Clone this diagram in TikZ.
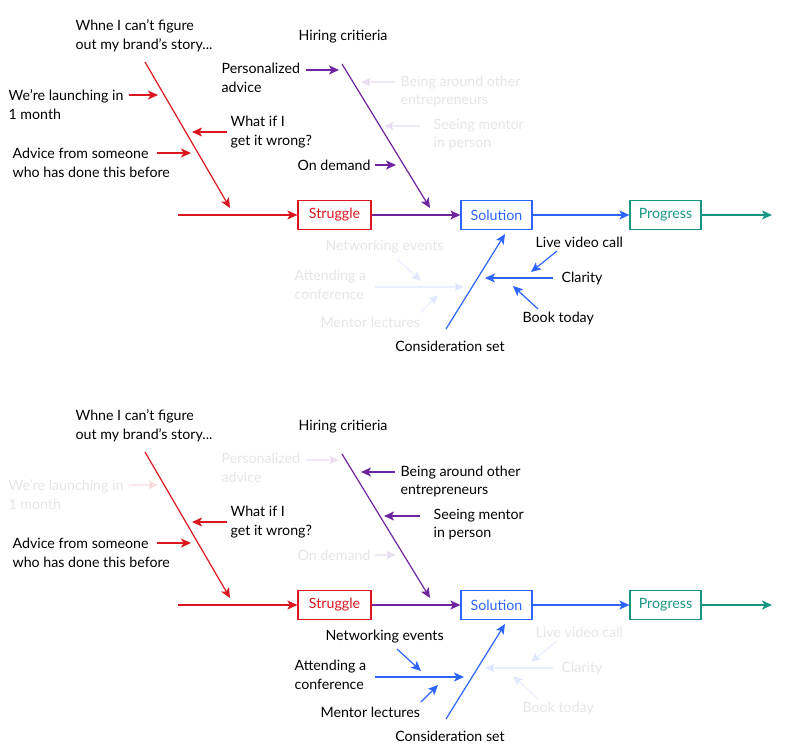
\documentclass[tikz,border=0pt]{standalone}
\usepackage{fontspec}
\setmainfont{Lato}
\usetikzlibrary{arrows.meta}
\definecolor{fbred}{RGB}{218,22,32}
\definecolor{fbpurple}{RGB}{110,36,158}
\definecolor{fbblue}{RGB}{44,100,255}
\definecolor{fbteal}{RGB}{22,150,130}

\begin{document}
\begin{tikzpicture}[x=1pt,y=-1pt,line width=1.2pt,
  >={Stealth[length=10pt,width=9pt,inset=2.5pt]},
  lbl/.style={align=left,inner sep=0pt,font=\fontsize{14.2}{18.7}\selectfont},
  stage/.style={draw,line width=1.2pt,minimum height=29pt,inner sep=0pt,font=\fontsize{14.2}{18.7}\selectfont}]
\useasboundingbox (0,0) rectangle (800,751);
\foreach \p/\dy/\oa/\ob in {a/0/1/.1, b/390/.1/1} {
\begin{scope}[shift={(0,\dy)}]
% stages
\node[stage,fbred,minimum width=73pt] (struggle\p) at (334.5,215) {Struggle};
\node[stage,fbblue,minimum width=71pt] (solution\p) at (496.5,215) {Solution};
\node[stage,fbteal,minimum width=71pt] (progress\p) at (665.5,215) {Progress};
\coordinate (start\p) at (178,215);
\coordinate (end\p) at (772,215);
\draw[->,fbred] (start\p) -- (struggle\p);
\draw[->,fbpurple] (struggle\p) -- (solution\p);
\draw[->,fbblue] (solution\p) -- (progress\p);
\draw[->,fbteal] (progress\p) -- (end\p);
% struggle bone
\node[lbl,anchor=west] (story\p) at (75,36) {Whne I can’t figure\\out my brand’s story...};
\coordinate (redtop\p) at (145,62);
\coordinate (redtip\p) at (230,208);
\draw[->,fbred] (redtop\p) -- (redtip\p);
\node[lbl,anchor=west] (wrong\p) at (230,132) {What if I\\get it wrong?};
\coordinate (wrongs\p) at (227,132);
\coordinate (wrongt\p) at (192,132);
\draw[->,fbred] (wrongs\p) -- (wrongt\p);
\node[lbl,anchor=west] (advice\p) at (12,163) {Advice from someone\\who has done this before};
\coordinate (advices\p) at (157,153);
\coordinate (advicet\p) at (191,153);
\draw[->,fbred] (advices\p) -- (advicet\p);
% solution bone
\node[lbl,anchor=west] (hiring\p) at (298,36.5) {Hiring critieria};
\coordinate (purtop\p) at (342,64);
\coordinate (purtip\p) at (430,208);
\draw[->,fbpurple] (purtop\p) -- (purtip\p);
\node[lbl] (consid\p) at (450,346.5) {Consideration set};
\coordinate (bluebot\p) at (446,329);
\coordinate (bluetip\p) at (505,234);
\draw[->,fbblue] (bluebot\p) -- (bluetip\p);
% first group
\begin{scope}[opacity=\oa]
\node[lbl,anchor=west] (launch\p) at (8,104.5) {We’re launching in\\1 month};
\coordinate (launchs\p) at (129,95);
\coordinate (launcht\p) at (158,95);
\draw[->,fbred] (launchs\p) -- (launcht\p);
\node[lbl,anchor=west] (personal\p) at (221,77.5) {Personalized\\advice};
\coordinate (personals\p) at (306,70);
\coordinate (personalt\p) at (339,70);
\draw[->,fbpurple] (personals\p) -- (personalt\p);
\node[lbl,anchor=west] (demand\p) at (297,165.5) {On demand};
\coordinate (demands\p) at (375,165);
\coordinate (demandt\p) at (396,165);
\draw[->,fbpurple] (demands\p) -- (demandt\p);
\node[lbl,anchor=west] (video\p) at (535,242.5) {Live video call};
\coordinate (videos\p) at (557,251);
\coordinate (videot\p) at (531,272);
\draw[->,fbblue] (videos\p) -- (videot\p);
\node[lbl,anchor=west] (clarity\p) at (561,278.5) {Clarity};
\coordinate (claritys\p) at (553,278);
\coordinate (clarityt\p) at (485,278);
\draw[->,fbblue] (claritys\p) -- (clarityt\p);
\node[lbl,anchor=west] (book\p) at (522,318.5) {Book today};
\coordinate (books\p) at (538,309);
\coordinate (bookt\p) at (513,286);
\draw[->,fbblue] (books\p) -- (bookt\p);
\end{scope}
% second group
\begin{scope}[opacity=\ob]
\node[lbl,anchor=west] (around\p) at (400,91.5) {Being around other\\entrepreneurs};
\coordinate (arounds\p) at (395,82);
\coordinate (aroundt\p) at (361,82);
\draw[->,fbpurple] (arounds\p) -- (aroundt\p);
\node[lbl,anchor=west] (seeing\p) at (433,134.5) {Seeing mentor\\in person};
\coordinate (seeings\p) at (420,126);
\coordinate (seeingt\p) at (384,126);
\draw[->,fbpurple] (seeings\p) -- (seeingt\p);
\node[lbl,anchor=west] (network\p) at (325,246.5) {Networking events};
\coordinate (networks\p) at (397,259);
\coordinate (networkt\p) at (421,281);
\draw[->,fbblue] (networks\p) -- (networkt\p);
\node[lbl,anchor=west] (attend\p) at (294,285) {Attending a\\conference};
\coordinate (attends\p) at (375,287);
\coordinate (attendt\p) at (464,287);
\draw[->,fbblue] (attends\p) -- (attendt\p);
\node[lbl,anchor=west] (lecture\p) at (320,322.5) {Mentor lectures};
\coordinate (lectures\p) at (421,312);
\coordinate (lecturet\p) at (438,295);
\draw[->,fbblue] (lectures\p) -- (lecturet\p);
\end{scope}
\end{scope}
}
\end{tikzpicture}
\end{document}
